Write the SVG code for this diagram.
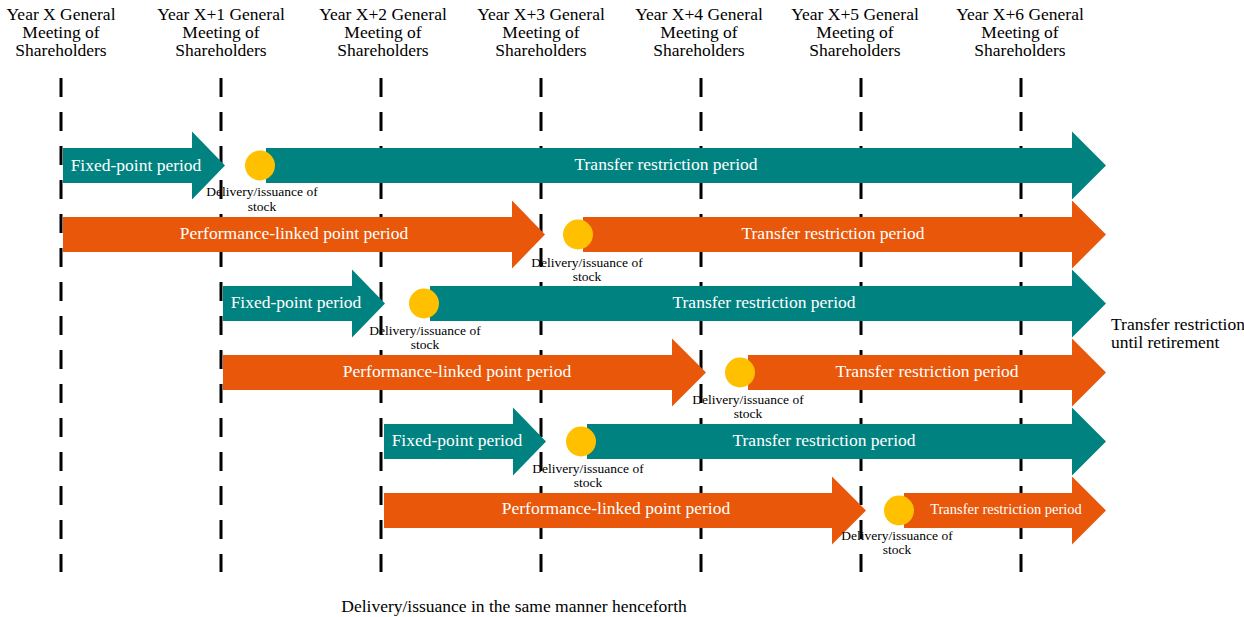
<svg xmlns="http://www.w3.org/2000/svg" width="1244" height="617" viewBox="0 0 1244 617">
<style>
.hdr{font-family:"Liberation Serif","Times New Roman",serif;font-size:17.5px;fill:#000;text-anchor:middle}
.lbl{font-family:"Liberation Serif","Times New Roman",serif;font-size:17.5px;fill:#fff;text-anchor:middle}
.sm{font-family:"Liberation Serif","Times New Roman",serif;font-size:13.5px;fill:#000;text-anchor:middle}
.note{font-family:"Liberation Serif","Times New Roman",serif;font-size:17.5px;fill:#000}
.teal{fill:#008280}
.orange{fill:#E8570A}
.dot{fill:#FFC000}
.dash{stroke:#000;stroke-width:3;stroke-dasharray:19 15;fill:none}
</style>
<rect width="1244" height="617" fill="#fff"/>
<g id="headers">
<text class="hdr" x="61" y="20">Year X General</text><text class="hdr" x="61" y="38">Meeting of</text><text class="hdr" x="61" y="56">Shareholders</text>
<text class="hdr" x="221" y="20">Year X+1 General</text><text class="hdr" x="221" y="38">Meeting of</text><text class="hdr" x="221" y="56">Shareholders</text>
<text class="hdr" x="383" y="20">Year X+2 General</text><text class="hdr" x="383" y="38">Meeting of</text><text class="hdr" x="383" y="56">Shareholders</text>
<text class="hdr" x="541" y="20">Year X+3 General</text><text class="hdr" x="541" y="38">Meeting of</text><text class="hdr" x="541" y="56">Shareholders</text>
<text class="hdr" x="699" y="20">Year X+4 General</text><text class="hdr" x="699" y="38">Meeting of</text><text class="hdr" x="699" y="56">Shareholders</text>
<text class="hdr" x="855" y="20">Year X+5 General</text><text class="hdr" x="855" y="38">Meeting of</text><text class="hdr" x="855" y="56">Shareholders</text>
<text class="hdr" x="1020" y="20">Year X+6 General</text><text class="hdr" x="1020" y="38">Meeting of</text><text class="hdr" x="1020" y="56">Shareholders</text>
</g>
<g id="timelines">
<line class="dash" x1="61" y1="78" x2="61" y2="572"/>
<line class="dash" x1="221" y1="78" x2="221" y2="572"/>
<line class="dash" x1="381" y1="78" x2="381" y2="572"/>
<line class="dash" x1="541" y1="78" x2="541" y2="572"/>
<line class="dash" x1="701" y1="78" x2="701" y2="572"/>
<line class="dash" x1="861" y1="78" x2="861" y2="572"/>
<line class="dash" x1="1021" y1="78" x2="1021" y2="572"/>
</g>
<g id="row1">
<path class="teal" d="M63,148 H192 V131.5 L225,165.5 L192,199.5 V183 H63 Z"/>
<text class="lbl" x="136" y="171">Fixed-point period</text>
<path class="teal" d="M266,148 H1072 V131.5 L1106,165.5 L1072,199.5 V183 H266 Z"/>
<text class="lbl" x="666" y="170">Transfer restriction period</text>
<circle class="dot" cx="260" cy="165.5" r="15"/>
<text class="sm" x="262" y="196">Delivery/issuance of</text><text class="sm" x="262" y="211">stock</text>
</g>
<g id="row2">
<path class="orange" d="M63,217 H512 V200.5 L545,234.5 L512,268.5 V252 H63 Z"/>
<text class="lbl" x="294" y="239">Performance-linked point period</text>
<path class="orange" d="M583,217 H1072 V200.5 L1106,234.5 L1072,268.5 V252 H583 Z"/>
<text class="lbl" x="833" y="239">Transfer restriction period</text>
<circle class="dot" cx="578" cy="234.5" r="15"/>
<text class="sm" x="587" y="267">Delivery/issuance of</text><text class="sm" x="587" y="281">stock</text>
</g>
<g id="row3">
<path class="teal" d="M223,286 H352 V269.5 L385,303.5 L352,337.5 V321 H223 Z"/>
<text class="lbl" x="296" y="308">Fixed-point period</text>
<path class="teal" d="M430,286 H1072 V269.5 L1106,303.5 L1072,337.5 V321 H430 Z"/>
<text class="lbl" x="764" y="308">Transfer restriction period</text>
<circle class="dot" cx="424" cy="303.5" r="15"/>
<text class="sm" x="425" y="335">Delivery/issuance of</text><text class="sm" x="425" y="349">stock</text>
</g>
<g id="row4">
<path class="orange" d="M223,355 H672 V338.5 L706,372.5 L672,406.5 V390 H223 Z"/>
<text class="lbl" x="457" y="377">Performance-linked point period</text>
<path class="orange" d="M748,355 H1072 V338.5 L1106,372.5 L1072,406.5 V390 H748 Z"/>
<text class="lbl" x="927" y="377">Transfer restriction period</text>
<circle class="dot" cx="740" cy="372.5" r="15"/>
<text class="sm" x="748" y="404">Delivery/issuance of</text><text class="sm" x="748" y="418">stock</text>
</g>
<g id="row5">
<path class="teal" d="M384,424 H513 V407.5 L546,441.5 L513,475.5 V459 H384 Z"/>
<text class="lbl" x="457" y="446">Fixed-point period</text>
<path class="teal" d="M587,424 H1072 V407.5 L1106,441.5 L1072,475.5 V459 H587 Z"/>
<text class="lbl" x="824" y="446">Transfer restriction period</text>
<circle class="dot" cx="581" cy="441.5" r="15"/>
<text class="sm" x="588" y="473">Delivery/issuance of</text><text class="sm" x="588" y="487">stock</text>
</g>
<g id="row6">
<path class="orange" d="M384,493 H832 V476.5 L866,510.5 L832,544.5 V528 H384 Z"/>
<text class="lbl" x="616" y="514">Performance-linked point period</text>
<path class="orange" d="M904,493 H1072 V476.5 L1106,510.5 L1072,544.5 V528 H904 Z"/>
<text class="lbl" x="1006" y="514" style="font-size:14.5px">Transfer restriction period</text>
<circle class="dot" cx="899" cy="510.5" r="15"/>
<text class="sm" x="897" y="540">Delivery/issuance of</text><text class="sm" x="897" y="554">stock</text>
</g>
<g id="notes">
<text class="note" x="1111" y="330">Transfer restriction</text>
<text class="note" x="1111" y="348">until retirement</text>
<text class="note" x="514" y="612" text-anchor="middle">Delivery/issuance in the same manner henceforth</text>
</g>
<g id="connectors"></g>
</svg>
